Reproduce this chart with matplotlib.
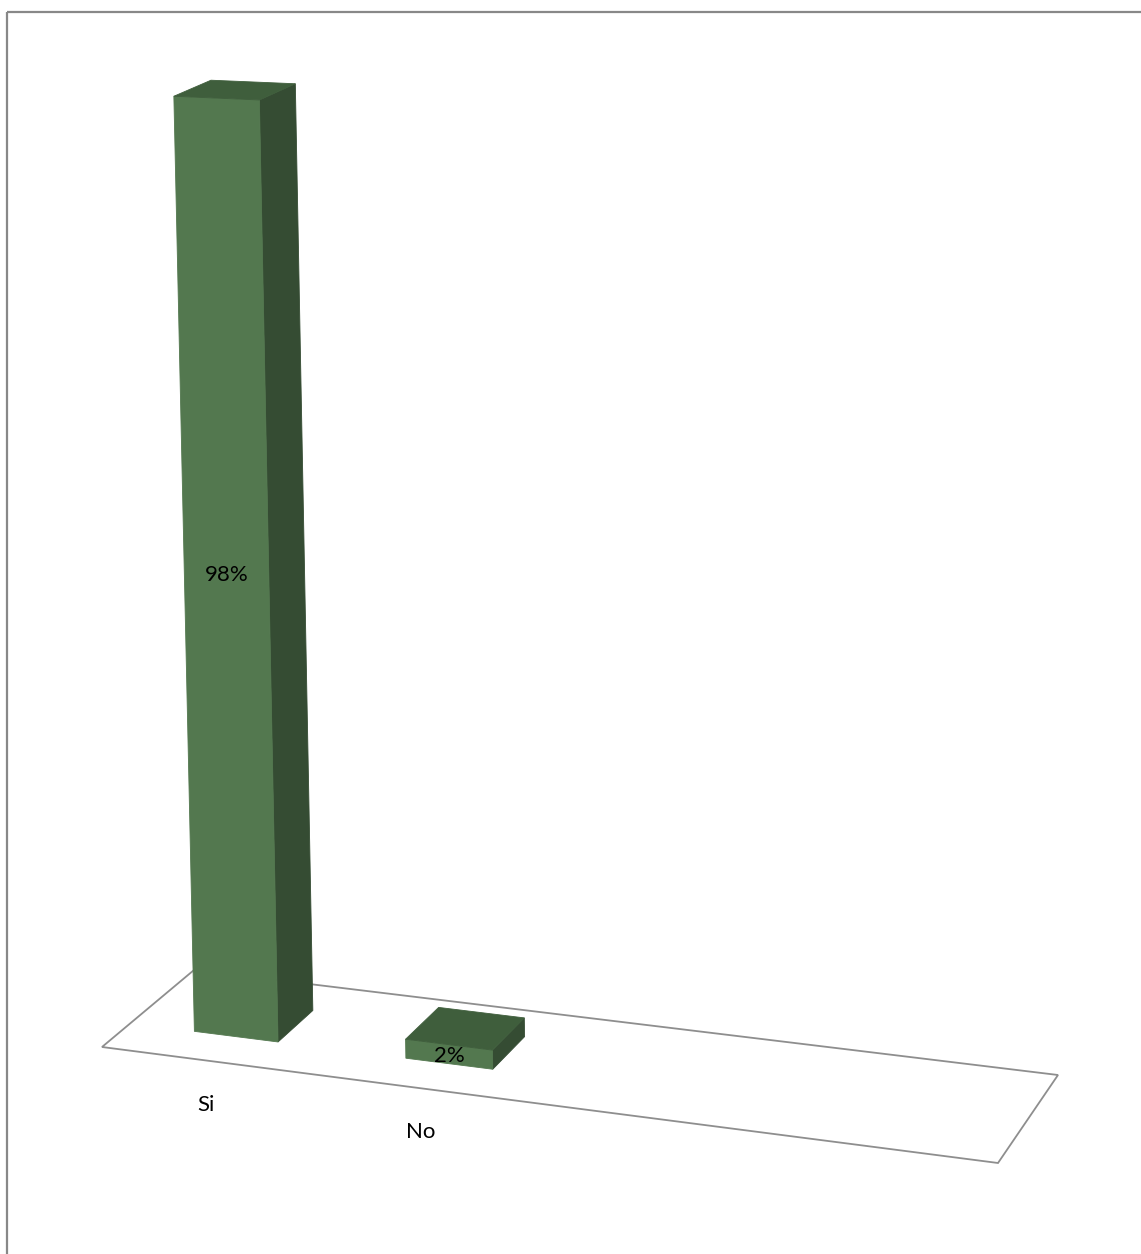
import numpy as np
import matplotlib
matplotlib.use("Agg")
import matplotlib.pyplot as plt
from matplotlib.patches import Polygon, Rectangle

# ---- data ----
categories = ["Si", "No"]
values = [98, 2]          # percent
value_labels = ["98%", "2%"]
n_slots = 4               # category slots along the floor (last two empty)

# ---- styling / layout ----
W_PX, H_PX = 1141, 1254
DPI = 100
front_col = "#53784F"
side_col = "#354C33"
top_col = "#3F5E3C"
floor_col = "#8E8E8E"
frame_col = "#888888"
bar_width = 0.4
bar_depth = 0.4
font = ["Lato", "DejaVu Sans"]

# perspective camera: floor anchors (world X,Z -> pixel), vertical vanishing point,
# and pixel height of the 100% level at the front-left floor corner
floor_world = [(0, 0), (n_slots, 0), (n_slots, 1), (0, 1)]
floor_px = [(102, 1047), (998, 1163), (1058, 1075), (194, 970)]
vert_vanish = (1050.0, 40000.0)
axis_max = 100.0
axis_height_px = 961.0


def homography(src, dst):
    A, b = [], []
    for (x, y), (u, v) in zip(src, dst):
        A.append([x, y, 1, 0, 0, 0, -u * x, -u * y]); b.append(u)
        A.append([0, 0, 0, x, y, 1, -v * x, -v * y]); b.append(v)
    h = np.linalg.solve(np.array(A, float), np.array(b, float))
    return np.append(h, 1.0).reshape(3, 3)


H = homography(floor_world, floor_px)
u0, v0 = floor_px[0]
f = -axis_height_px / (vert_vanish[1] - v0)
k = f / ((1 - f) * axis_max)


def proj(X, Y, Z):
    U, V, Wt = H @ np.array([X, Z, 1.0])
    t = Y * k
    return ((U + t * vert_vanish[0]) / (Wt + t), (V + t * vert_vanish[1]) / (Wt + t))


fig = plt.figure(figsize=(W_PX / DPI, H_PX / DPI), dpi=DPI)
ax = fig.add_axes([0, 0, 1, 1])
ax.set_xlim(0, W_PX)
ax.set_ylim(H_PX, 0)
ax.axis("off")

# chart frame
ax.add_patch(Rectangle((7, 12), W_PX + 20, H_PX + 20, fill=False,
                       edgecolor=frame_col, lw=1.6, zorder=1))

# floor outline
floor = [proj(x, 0, z) for x, z in floor_world]
ax.add_patch(Polygon(floor, closed=True, fill=False, edgecolor=floor_col,
                     lw=1.3, zorder=2))

z0 = (1 - bar_depth) / 2
z1 = z0 + bar_depth
for i, (cat, val, lab) in enumerate(zip(categories, values, value_labels)):
    x0 = i + (1 - bar_width) / 2 + 0.01
    x1 = x0 + bar_width
    front = [proj(x0, 0, z0), proj(x1, 0, z0), proj(x1, val, z0), proj(x0, val, z0)]
    side = [proj(x1, 0, z0), proj(x1, 0, z1), proj(x1, val, z1), proj(x1, val, z0)]
    top = [proj(x0, val, z0), proj(x1, val, z0), proj(x1, val, z1), proj(x0, val, z1)]
    for poly, col in ((side, side_col), (front, front_col), (top, top_col)):
        ax.add_patch(Polygon(poly, closed=True, facecolor=col, edgecolor=col,
                             lw=0.6, zorder=3 + i))
    # value label on the front face
    lx, ly = proj(x0 + bar_width / 2, val / 2, z0)
    ax.text(lx, ly + 2, lab, ha="center", va="center", fontsize=16,
            family=font, color="black", zorder=10)
    # category label under the front floor edge
    cx, cy = proj(i + 0.5, 0, 0)
    ax.text(cx - 1, cy + 44, cat, ha="center", va="center", fontsize=16,
            family=font, color="black", zorder=10)

fig.savefig("out.png", dpi=DPI, facecolor="white")
